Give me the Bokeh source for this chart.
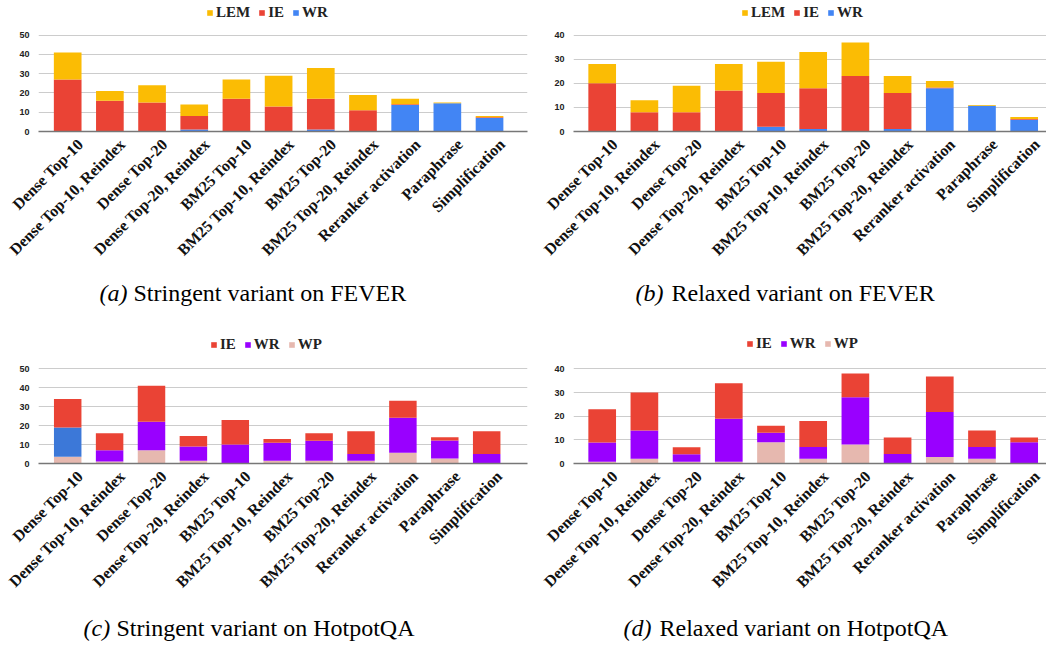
import math
import numpy as np
from bokeh.plotting import figure
from bokeh.models import Range1d, FixedTicker, Legend, LegendItem
from bokeh.layouts import column, row
from bokeh.embed import file_html
from bokeh.resources import INLINE
from bokeh.core.properties import value

categories = ["Dense Top-10", "Dense Top-10, Reindex", "Dense Top-20", "Dense Top-20, Reindex",
              "BM25 Top-10", "BM25 Top-10, Reindex", "BM25 Top-20", "BM25 Top-20, Reindex",
              "Reranker activation", "Paraphrase", "Simplification"]

# (a) Stringent variant on FEVER
fever_strict_wr = [0, 0, 0, 1, 0, 0, 1, 0, 13.7, 14.6, 7.0]
fever_strict_ie = [27, 16, 15, 7, 17, 13, 16, 11, 0.5, 0, 0.4]
fever_strict_lem = [14, 5, 9, 6, 10, 16, 16, 8, 2.8, 0.5, 0.7]
# (b) Relaxed variant on FEVER
fever_relax_wr = [0, 0, 0, 0, 2, 1, 0, 1, 18, 10.7, 4.9]
fever_relax_ie = [20, 8, 8, 17, 14, 17, 23, 15, 0.3, 0, 0.3]
fever_relax_lem = [8, 5, 11, 11, 13, 15, 14, 7, 2.7, 0.3, 0.8]
# (c) Stringent variant on HotpotQA
hotpot_strict_wp = [3.5, 1, 7, 1.5, 0, 1.5, 1.5, 1.5, 5.7, 2.7, 0]
hotpot_strict_wr = [15.5, 6, 15, 7.5, 10, 9.5, 10.5, 3.5, 18.4, 9.4, 5]
hotpot_strict_ie = [15, 9, 19, 5.5, 13, 2, 4, 12, 9, 1.7, 12]
# (d) Relaxed variant on HotpotQA
hotpot_relax_wp = [0.7, 2, 0.7, 0.7, 9, 2, 8, 0, 2.8, 2, 0]
hotpot_relax_wr = [8.2, 12, 3.2, 18.2, 4, 5, 20, 4, 19, 5, 9]
hotpot_relax_ie = [14, 16, 3, 15, 3, 11, 10, 7, 15, 7, 2]

y_ticks_50 = [0, 10, 20, 30, 40, 50]
y_ticks_40 = [0, 10, 20, 30, 40]

C_LEM = "#fbbc04"
C_IE = "#ea4335"
C_WR = "#4285f4"
C_WR2 = "#9900ff"
C_WP = "#e6b8af"
C_WR_FIRST = "#3c78d8"

XOFF = 0.3
SERIF = "Liberation Serif"


def chart(stack, yticks, y_end, width, height, mbl, mbr, mbt, mbb, x_start, x_end, leg_xy):
    p = figure(width=width, height=height, output_backend="svg", toolbar_location=None,
               x_range=Range1d(x_start, x_end), y_range=Range1d(0, y_end),
               min_border_left=mbl, min_border_right=mbr, min_border_top=mbt,
               min_border_bottom=mbb)
    p.outline_line_color = None
    xs = list(range(len(categories)))
    bottom = np.zeros(len(categories))
    items = []
    for name, vals, color, idx in stack:
        v = np.array(vals, dtype=float)
        r = p.vbar(x=xs, bottom=bottom.copy(), top=bottom + v, width=0.656,
                   fill_color=color, line_color=None)
        if idx is None:
            items.append(LegendItem(label=name, renderers=[r]))
        else:
            items.append(LegendItem(label=name, renderers=[r], index=idx))
        bottom = bottom + v

    p.yaxis.ticker = FixedTicker(ticks=yticks)
    p.yaxis.axis_line_color = None
    p.yaxis.major_tick_line_color = None
    p.yaxis.minor_tick_line_color = None
    p.yaxis.major_label_standoff = 3
    p.yaxis.major_label_text_font = "Liberation Sans"
    p.yaxis.major_label_text_font_style = "bold"
    p.yaxis.major_label_text_font_size = "9px"
    p.yaxis.major_label_text_color = "#222222"
    p.ygrid.grid_line_color = "#cccccc"
    p.ygrid.grid_line_width = 1
    p.xgrid.visible = False

    ticks = [i + XOFF for i in xs]
    p.xaxis.ticker = FixedTicker(ticks=ticks)
    p.xaxis.major_label_overrides = {t: c for t, c in zip(ticks, categories)}
    p.xaxis.major_label_orientation = math.pi / 4
    p.xaxis.major_tick_line_color = None
    p.xaxis.minor_tick_line_color = None
    p.xaxis.axis_line_color = "#777777"
    p.xaxis.axis_line_width = 1.5
    p.xaxis.major_label_standoff = 4
    p.xaxis.major_label_text_font = SERIF
    p.xaxis.major_label_text_font_style = "bold"
    p.xaxis.major_label_text_font_size = "16px"
    p.xaxis.major_label_text_color = "#111111"

    leg = Legend(items=items[::-1], location=leg_xy, orientation="horizontal",
                 glyph_width=7, glyph_height=7, label_standoff=3, spacing=8,
                 padding=0, margin=0, label_width=0, label_height=10,
                 background_fill_alpha=0, border_line_color=None,
                 label_text_font=SERIF, label_text_font_style="bold",
                 label_text_font_size="15px", label_text_color="#222222")
    p.add_layout(leg)
    return p


def caption(width, height, lx, ux, by, italic, upright):
    c = figure(width=width, height=height, output_backend="svg", toolbar_location=None,
               x_range=Range1d(0, width), y_range=Range1d(0, height), min_border=0,
               x_axis_location=None, y_axis_location=None)
    c.grid.visible = False
    c.outline_line_color = None
    c.text(x=[lx], y=[by], text=[italic], text_font=value(SERIF), text_font_style="italic",
           text_font_size="24px", text_baseline="alphabetic", text_align="left",
           text_color="#000000")
    c.text(x=[ux], y=[by], text=[upright], text_font=value(SERIF), text_font_style="normal",
           text_font_size="24px", text_baseline="alphabetic", text_align="left",
           text_color="#000000")
    return c


fa = chart([("WR", fever_strict_wr, C_WR, None), ("IE", fever_strict_ie, C_IE, None),
            ("LEM", fever_strict_lem, C_LEM, None)],
           y_ticks_50, 68.0, 533, 280, 38, 6, 0, 149, -0.692, 10.9, (168, 110.5))
fb = chart([("WR", fever_relax_wr, C_WR, None), ("IE", fever_relax_ie, C_IE, None),
            ("LEM", fever_relax_lem, C_LEM, None)],
           y_ticks_40, 54.41, 513, 280, 40, 0, 0, 149, -0.68, 10.529, (168, 110.5))

wr_colors_c = [C_WR_FIRST] + [C_WR2] * (len(categories) - 1)
fc = chart([("WP", hotpot_strict_wp, C_WP, None), ("WR", hotpot_strict_wr, wr_colors_c, 1),
            ("IE", hotpot_strict_ie, C_IE, None)],
           y_ticks_50, 72.33, 533, 286, 38, 6, 0, 149, -0.697, 10.974, (172, 109.8))
fd = chart([("WP", hotpot_relax_wp, C_WP, None), ("WR", hotpot_relax_wr, C_WR2, None),
            ("IE", hotpot_relax_ie, C_IE, None)],
           y_ticks_40, 57.92, 513, 286, 40, 0, 0, 148, -0.68, 10.529, (173, 110.8))

ca = caption(533, 46, 99, 133, 34, "(a)", "Stringent variant on FEVER")
cb = caption(513, 46, 102, 138, 34, "(b)", "Relaxed variant on FEVER")
cc = caption(533, 36, 83, 116, 21, "(c)", "Stringent variant on HotpotQA")
cd = caption(513, 36, 90, 126, 21, "(d)", "Relaxed variant on HotpotQA")

layout = column(row(fa, fb), row(ca, cb), row(fc, fd), row(cc, cd))

open("out.html", "w").write(file_html(layout, INLINE))
